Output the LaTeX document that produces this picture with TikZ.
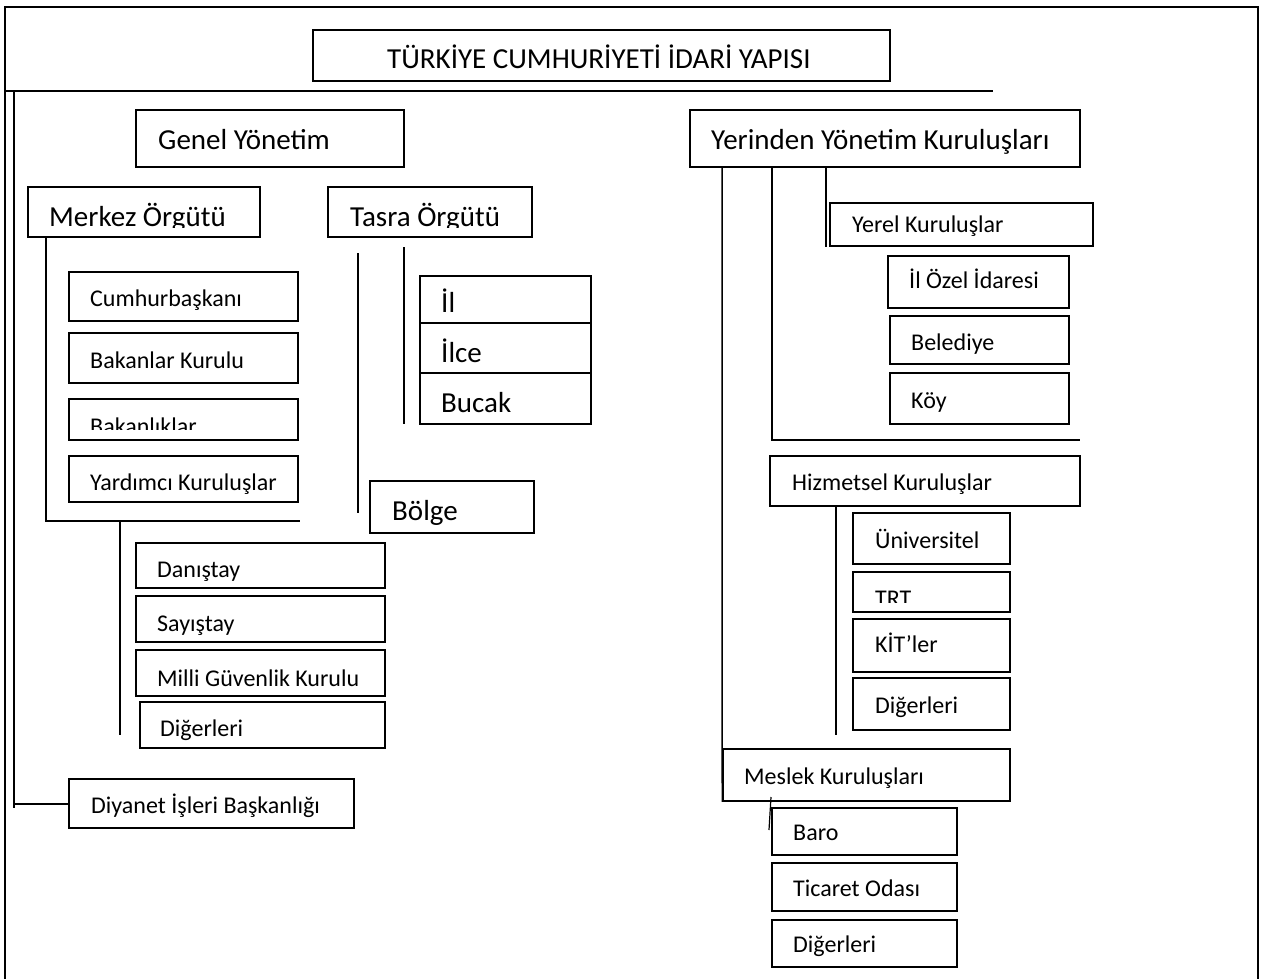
\documentclass[tikz,border=0pt]{standalone}
\usepackage{fontspec}
\setmainfont{Carlito}
\usetikzlibrary{fit}
\newcommand\Lg{\fontsize{29}{34}\selectfont}
\newcommand\Sm{\fontsize{24}{28}\selectfont}
\tikzset{
  boxst/.style={draw, line width=1.5pt, inner sep=0pt, rectangle},
  txt/.style={inner sep=0pt, anchor=base west},
  ln/.style={line width=1.5pt},
}
% name, x1, y1, x2, y2, text x, baseline y, font, text
\newcommand\bx[9]{%
  \node[boxst, fit={(#2,#3) (#4,#5)}] (#1) {};
  \node[txt, font=#8] (#1t) at (#6,#7) {#9};
}
% clipped text: name, x1, y1, x2, y2, clip y, text x, baseline y, text (font given before)
\newcommand\cbx[9]{%
  \node[boxst, fit={(#2,#3) (#4,#5)}] (#1) {};
  \begin{scope}
    \clip (#2,#3) rectangle (#4,#6);
    \node[txt] (#1t) at (#7,#8) {#9};
  \end{scope}
}
\begin{document}
\begin{tikzpicture}[x=1pt,y=-1pt]
\useasboundingbox (0,0) rectangle (1267,979);
\fill[white] (0,0) rectangle (1267,979);
% outer frame
\coordinate (fbl) at (5,979);
\coordinate (ftl) at (5,7);
\coordinate (ftr) at (1258,7);
\coordinate (fbr) at (1258,979);
\draw[ln] (fbl) -- (ftl) -- (ftr) -- (fbr);
% title
\bx{title}{313}{30}{890}{81}{387}{69}{\Lg}{TÜRKİYE CUMHURİYETİ İDARİ YAPISI}
\coordinate (hl1) at (5,91);
\coordinate (hl2) at (993,91);
\draw[ln] (hl1) -- (hl2);
% ---------- left: Genel Yönetim ----------
\bx{genel}{136}{110}{404}{167}{158}{150}{\Lg}{Genel Yönetim}
{\Lg
\cbx{merkez}{28}{187}{260}{237}{227}{49}{226}{Merkez Örgütü}
\cbx{tasra}{328}{187}{532}{237}{227}{350}{226}{Tasra Örgütü}
}
% inner left trunk
\coordinate (it1) at (14,91);
\coordinate (it2) at (14,808);
\draw[ln] (it1) -- (it2);
% Merkez branch
\coordinate (mkc) at (46,521);
\coordinate (mke) at (300,521);
\draw[ln] (merkez.south -| mkc) -- (mkc) -- (mke);
\bx{cumhur}{69}{272}{298}{321}{90}{306}{\Sm}{Cumhurbaşkanı}
\bx{bakkur}{69}{333}{298}{383}{90}{368}{\Sm}{Bakanlar Kurulu}
{\Sm
\cbx{bakanlik}{69}{399}{298}{440}{429}{90}{434}{Bakanlıklar}
}
\bx{yardimci}{69}{456}{298}{502}{90}{490}{\Sm}{Yardımcı Kuruluşlar}
% second branch
\coordinate (sb1) at (120,521);
\coordinate (sb2) at (120,735);
\draw[ln] (sb1) -- (sb2);
\bx{danistay}{136}{543}{385}{588}{157}{577}{\Sm}{Danıştay}
\bx{sayistay}{136}{596}{385}{642}{157}{631}{\Sm}{Sayıştay}
\bx{mgk}{136}{650}{385}{696}{157}{686}{\Sm}{Milli Güvenlik Kurulu}
\bx{digerA}{140}{702}{385}{748}{160}{736}{\Sm}{Diğerleri}
% Diyanet
\bx{diyanet}{69}{779}{354}{828}{91}{813}{\Sm}{Diyanet İşleri Başkanlığı}
\coordinate (dy) at (14,804);
\draw[ln] (dy) -- (diyanet.west |- dy);
% Tasra branch
\coordinate (ts1) at (358,253);
\coordinate (ts2) at (358,513);
\coordinate (ts3) at (404,247);
\coordinate (ts4) at (404,424);
\draw[ln] (ts1) -- (ts2);
\draw[ln] (ts3) -- (ts4);
\bx{il}{420}{276}{591}{323}{441}{312}{\Lg}{İl}
\bx{ilce}{420}{323}{591}{373}{441}{362}{\Lg}{İlce}
\bx{bucak}{420}{373}{591}{424}{441}{412}{\Lg}{Bucak}
\bx{bolge}{370}{481}{534}{533}{392}{520}{\Lg}{Bölge}
% ---------- right: Yerinden Yönetim ----------
\bx{yerinden}{690}{110}{1080}{167}{711}{150}{\Lg}{Yerinden Yönetim Kuruluşları}
\coordinate (ya) at (722,167);
\coordinate (yb) at (772,167);
\coordinate (yc) at (826,167);
\coordinate (ybe) at (1080,440);
\coordinate (yce) at (826,247);
\bx{yerel}{830}{203}{1093}{246}{852}{232}{\Sm}{Yerel Kuruluşlar}
\bx{ilozel}{888}{256}{1069}{308}{909}{288}{\Sm}{İl Özel İdaresi}
\bx{belediye}{890}{316}{1069}{364}{911}{350}{\Sm}{Belediye}
\bx{koy}{890}{373}{1069}{424}{911}{408}{\Sm}{Köy}
\bx{hizmet}{770}{456}{1080}{506}{792}{490}{\Sm}{Hizmetsel Kuruluşlar}
\coordinate (hz1) at (836,735);
\draw[ln] (hizmet.south -| hz1) -- (hz1);
\bx{univ}{853}{513}{1010}{564}{875}{548}{\Sm}{Üniversitel}
{\Sm
\cbx{trt}{853}{572}{1010}{612}{602}{875}{606}{TRT}
}
\bx{kit}{853}{619}{1010}{672}{875}{652}{\Sm}{KİT’ler}
\bx{digerB}{853}{678}{1010}{730}{875}{713}{\Sm}{Diğerleri}
\bx{meslek}{723}{749}{1010}{801}{744}{784}{\Sm}{Meslek Kuruluşları}
\draw[ln] (ya) -- (meslek.south west);
\draw[ln] (yb) |- (ybe);
\draw[ln] (yc) -- (yce);
\bx{baro}{772}{808}{957}{855}{793}{840}{\Sm}{Baro}
\bx{ticaret}{772}{863}{957}{911}{793}{896}{\Sm}{Ticaret Odası}
\bx{digerC}{772}{920}{957}{967}{793}{952}{\Sm}{Diğerleri}
\coordinate (mt) at (771,797);
\coordinate (mb) at (769,830);
\draw[line width=1.2pt] (mt) -- (mb);
\end{tikzpicture}
\end{document}
